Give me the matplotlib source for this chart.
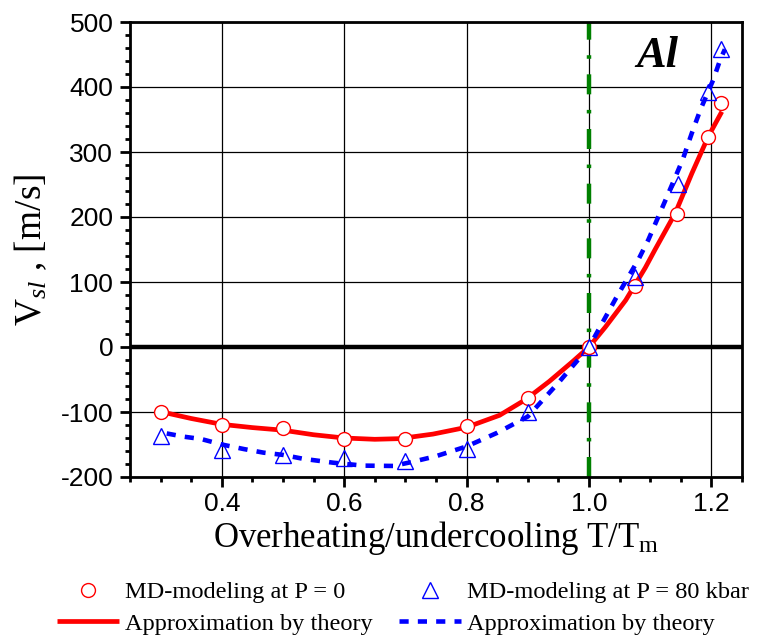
import matplotlib
matplotlib.use("Agg")
import matplotlib.pyplot as plt
from matplotlib.ticker import MultipleLocator

serif = 'Liberation Serif'
plt.rcParams['axes.unicode_minus'] = False
plt.rcParams['mathtext.fontset'] = 'custom'
plt.rcParams['mathtext.rm'] = serif
plt.rcParams['mathtext.it'] = serif + ':italic'

# MD data points
t_p0 = [0.3, 0.4, 0.5, 0.6, 0.7, 0.8, 0.9, 1.0, 1.075, 1.144, 1.195, 1.215]
v_p0 = [-100, -120, -124, -142, -141, -122, -79, 0, 94, 205, 323, 376]
t_p80 = [0.3, 0.4, 0.5, 0.6, 0.7, 0.8, 0.9, 1.0, 1.075, 1.145, 1.195, 1.215]
v_p80 = [-137, -158, -166, -170, -175, -157, -100, 0, 108, 251, 392, 459]

# theory curves
t_th0 = [0.3, 0.312, 0.35, 0.4, 0.45, 0.5, 0.55, 0.6, 0.65, 0.69, 0.745, 0.8, 0.854,
         0.897, 0.935, 0.973, 1.0, 1.027, 1.06, 1.092, 1.108, 1.141, 1.168, 1.195, 1.217]
v_th0 = [-100, -102, -110, -119, -124, -128, -135, -140, -142, -141, -134, -123.5, -105,
         -80.5, -53, -22.6, 0, 31, 72, 122, 150, 206, 267, 324, 362]
t_th80 = [0.31, 0.338, 0.366, 0.4, 0.436, 0.468, 0.5, 0.533, 0.582, 0.631, 0.68, 0.71,
          0.75, 0.8, 0.85, 0.9, 0.95, 1.0, 1.044, 1.081, 1.097, 1.125, 1.153, 1.168,
          1.182, 1.203, 1.214, 1.222]
v_th80 = [-133, -138, -141.5, -150, -157, -162.5, -166, -172, -178, -182.5, -183, -177,
          -168, -153, -132, -107, -55, 0, 75, 135, 165, 226, 288, 329, 365, 411, 441, 458]

fig = plt.figure(figsize=(7.67, 6.4), dpi=100)
ax = fig.add_axes([130/767, 1-477/640, (742-130)/767, (477-22)/640])

ax.set_xlim(0.25, 1.25)
ax.set_ylim(-200, 500)
ax.xaxis.set_major_locator(MultipleLocator(0.2))
ax.xaxis.set_minor_locator(MultipleLocator(0.05))
ax.yaxis.set_major_locator(MultipleLocator(100))
ax.yaxis.set_minor_locator(MultipleLocator(20))
ax.grid(True, which='major', color='black', linewidth=0.9, zorder=0)
ax.set_axisbelow(True)

for s in ax.spines.values():
    s.set_linewidth(2.0)
ax.tick_params(which='major', direction='out', length=7, width=2, labelsize=19,
               top=False, right=False)
ax.tick_params(axis='x', which='major', pad=4)
ax.tick_params(axis='y', which='major', pad=5)
ax.tick_params(which='minor', direction='out', length=3.8, width=2, top=False, right=False)
for lab in ax.get_xticklabels() + ax.get_yticklabels():
    lab.set_fontfamily('Liberation Sans')

ax.axhline(0, color='black', linewidth=3.2, zorder=2)
ax.axvline(1.0, color='#008000', linewidth=3.2, zorder=2,
           linestyle=(0, (4.5, 3.5, 0.8, 3.5)))

l_red, = ax.plot(t_th0, v_th0, color='red', linewidth=3.4, zorder=3,
                 solid_capstyle='butt')
l_blue, = ax.plot(t_th80, v_th80, color='blue', linewidth=3.3, zorder=3,
                  linestyle=(0, (2.0, 2.0)))
m_red, = ax.plot(t_p0, v_p0, linestyle='none', marker='o', markersize=10,
                 markerfacecolor='white', markeredgecolor='red', markeredgewidth=1.0, zorder=4)
m_blue, = ax.plot(t_p80, v_p80, linestyle='none', marker='^', markersize=11,
                  markerfacecolor='none', markeredgecolor='blue', markeredgewidth=1.0, zorder=4)

ax.set_xlabel(r'Overheating/undercooling T/T$_{\mathregular{m}}$', fontfamily=serif,
              fontsize=25, labelpad=2)
ax.set_ylabel(r'V$_{\mathit{sl}}$ , [m/s]', fontfamily=serif, fontsize=27, labelpad=8)

ax.text(0.861, 0.901, 'Al', transform=ax.transAxes, fontfamily=serif, fontsize=32,
        fontweight='bold', fontstyle='italic', ha='center', va='baseline')

fig.legend([m_red, l_red, m_blue, l_blue],
           ['MD-modeling at P = 0', 'Approximation by theory',
            'MD-modeling at P = 80 kbar', 'Approximation by theory'],
           ncol=2, frameon=False, loc='upper left', bbox_to_anchor=(57/767, 1-581/640),
           prop={'family': serif, 'size': 17.6}, handlelength=2.55, handletextpad=0.25,
           columnspacing=1.05, labelspacing=0.4, borderaxespad=0, borderpad=0)

fig.savefig('out.png', dpi=100)
